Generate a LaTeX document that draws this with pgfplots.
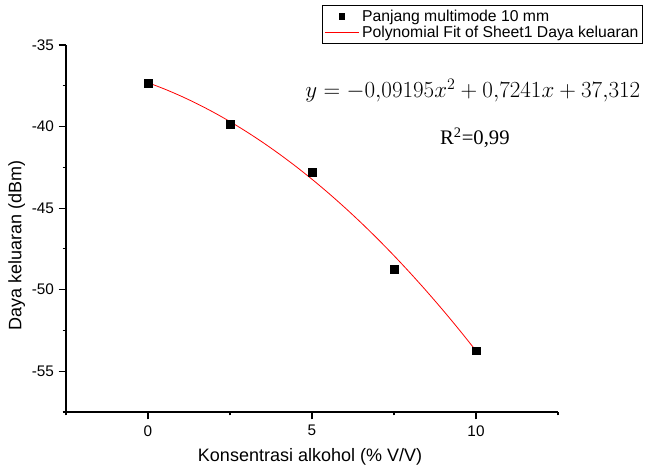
\documentclass[border=0pt]{standalone}
\usepackage{pgfplots}
\pgfplotsset{compat=1.18}
\usepackage{fontspec}
\setmainfont{Liberation Sans}
\newfontfamily\serifr{Liberation Serif}
\begin{document}
\begin{tikzpicture}
\useasboundingbox (-49.5pt,-43.5pt) rectangle (437.25pt,309pt);
\begin{axis}[
  scale only axis,
  width=369pt, height=275.25pt,
  xmin=-2.5, xmax=12.5, ymin=-57.5, ymax=-35,
  axis lines=left,
  axis line style={-, line width=0.8pt},
  xtick={0,5,10}, ytick={-55,-50,-45,-40,-35},
  minor xtick={-2.5,2.5,7.5,12.5},
  minor ytick={-57.5,-52.5,-47.5,-42.5,-37.5},
  tick align=outside,
  major tick length=5.5pt, minor tick length=2.6pt,
  tick style={line width=0.8pt, black},
  /pgf/number format/assume math mode=true,
  ticklabel style={font=\fontsize{11.5}{13}\selectfont},
  xticklabel style={yshift=-1pt},
  xlabel={Konsentrasi alkohol (\% V/V)},
  ylabel={Daya keluaran (dBm)},
  label style={font=\fontsize{13.5}{15}\selectfont},
  xlabel style={at={(0.496,0)}, anchor=center, yshift=-33.5pt},
  ylabel style={at={(0,0.455)}, anchor=center, yshift=37pt},
  legend style={at={(1.173,1.109)}, anchor=north east, draw=black, line width=0.6pt,
    font=\fontsize{11.8}{12.5}\selectfont, inner sep=1.2pt, row sep=-2pt,
    legend cell align=left},
  legend image code/.code={\draw[mark repeat=2,mark phase=2] plot coordinates {(0cm,0cm) (0.45cm,0cm) (0.9cm,0cm)};},
  clip=false,
]
\addplot[only marks, mark=square*, mark size=2.9pt, black,
  legend image code/.code={\draw[mark size=2pt] plot coordinates {(0.45cm,0cm)};}]
  coordinates {
  (0,-37.35) (2.5,-39.88) (5,-42.81) (7.5,-48.76) (10,-53.75)
};
\addlegendentry{Panjang multimode 10 mm}
\addplot[red, line width=0.6pt, smooth] coordinates {
  (0,-37.312) (0.5,-37.697) (1,-38.128) (1.5,-38.605) (2,-39.128)
  (2.5,-39.697) (3,-40.312) (3.5,-40.973) (4,-41.680) (4.5,-42.432)
  (5,-43.231) (5.5,-44.076) (6,-44.967) (6.5,-45.903) (7,-46.886)
  (7.5,-47.915) (8,-48.990) (8.5,-50.110) (9,-51.277) (9.5,-52.489)
  (10,-53.748)
};
\addlegendentry{Polynomial Fit of Sheet1 Daya keluaran}
\node at (rel axis cs:0.827,0.875) {\fontsize{18.5}{20}\selectfont $y=-0{,}09195x^2+0{,}7241x+37{,}312$};
\node at (rel axis cs:0.831,0.747) {\serifr\fontsize{15.5}{17}\selectfont R\textsuperscript{2}=0,99};
\end{axis}
\end{tikzpicture}
\end{document}
